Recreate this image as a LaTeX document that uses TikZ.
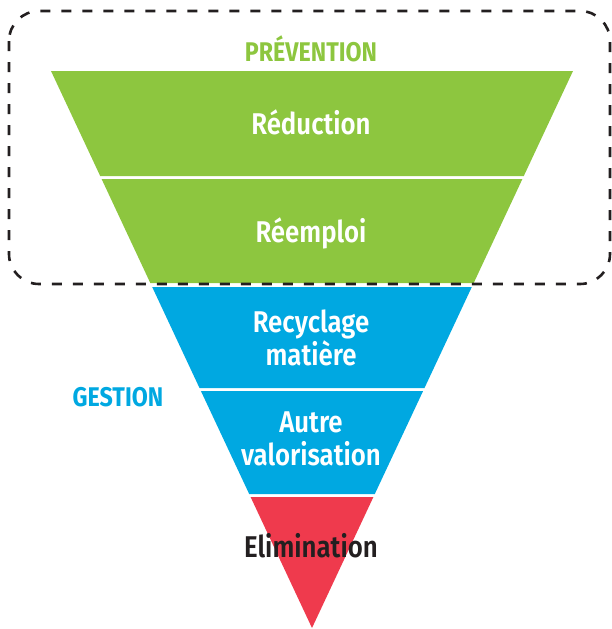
\documentclass[tikz,border=0pt]{standalone}
\usepackage{fontspec}
\newfontfamily\labfont[FakeStretch=0.86]{Fira Sans SemiBold}
\newfontfamily\condfont[FakeStretch=0.86]{Fira Sans Bold}
\definecolor{cgreen}{HTML}{8DC63F}
\definecolor{cblue}{HTML}{00A8E1}
\definecolor{cred}{HTML}{EF3A4D}
\definecolor{cdark}{HTML}{231F20}
\tikzset{
  band/.style={draw=none},
  lab/.style={text=white, font=\labfont\fontsize{30}{33}\selectfont, align=center, inner sep=0pt},
  head/.style={font=\condfont\fontsize{27}{30}\selectfont, inner sep=0pt},
  dashbox/.style={draw=cdark, line width=2.6pt, dash pattern=on 10pt off 11pt, rounded corners=30pt}
}
\begin{document}
\begin{tikzpicture}[x=1pt,y=-1pt]
\useasboundingbox (0,0) rectangle (611,629);
% bands
\fill[cgreen, band] (51,71) -- (573,71) -- (523.8,176) -- (100.2,176) -- cycle;
\fill[cgreen, band] (101.6,179) -- (522.4,179) -- (473.7,283) -- (150.3,283) -- cycle;
\fill[cblue, band] (152.2,287) -- (471.8,287) -- (424.5,388) -- (199.5,388) -- cycle;
\fill[cblue, band] (200.9,391) -- (423.1,391) -- (374.8,494) -- (249.2,494) -- cycle;
\fill[cred, band] (250.6,497) -- (373.4,497) -- (312,628) -- cycle;
% dashed box
\draw[dashbox] (9,11) rectangle (610,284);
% labels
\node[lab] (reduction) at (311,122) {Réduction};
\node[lab] (reemploi) at (311,233) {Réemploi};
\node[lab] (recyclage) at (311,338) {Recyclage\\matière};
\node[lab] (autre) at (311,439) {Autre\\valorisation};
\node[lab, text=cdark] (elim) at (311,546) {Elimination};
\node[head, text=cgreen] (prev) at (311,49) {PRÉVENTION};
\node[head, text=cblue] (gestion) at (118,397) {GESTION};
\end{tikzpicture}
\end{document}
